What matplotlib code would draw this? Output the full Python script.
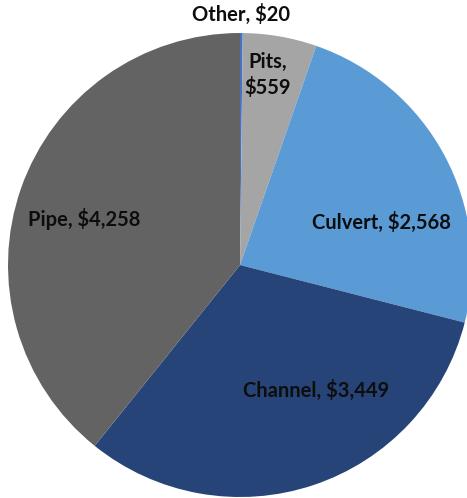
import matplotlib
matplotlib.use("Agg")
import matplotlib.pyplot as plt

categories = ["Other", "Pits", "Culvert", "Channel", "Pipe"]
values = [20, 559, 2568, 3449, 4258]
colors = ["#4472c4", "#a5a5a5", "#5b9bd5", "#264478", "#636363"]
label_pos = [(0.004, 1.08), (0.12, 0.82), (0.61, 0.185), (0.33, -0.54), (-0.67, 0.20)]

W, H = 467, 498
fig = plt.figure(figsize=(W / 100, H / 100), dpi=100)
cx, cy, r = 240, 265, 232
ax = fig.add_axes([(cx - r) / W, (H - cy - r) / H, 2 * r / W, 2 * r / H])
ax.pie(values, colors=colors, startangle=90, counterclock=False, radius=1,
       wedgeprops=dict(linewidth=0))
ax.set_xlim(-1, 1)
ax.set_ylim(-1, 1)
ax.set_aspect("auto")
ax.axis("off")

for cat, v, (x, y) in zip(categories, values, label_pos):
    txt = f"{cat}, ${v:,}"
    if cat == "Pits":
        txt = f"{cat},\n${v:,}"
    ax.text(x, y, txt, ha="center", va="center", fontsize=14.5, fontweight="bold",
            family=["Lato", "DejaVu Sans"], color="#0d0d0d", linespacing=1.3,
            clip_on=False)

fig.savefig("out.png", dpi=100)
